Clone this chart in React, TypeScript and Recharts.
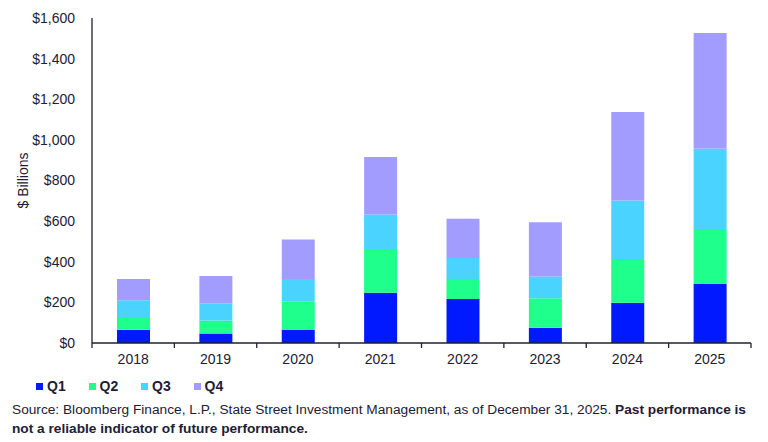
import React from 'react';
import { BarChart, Bar, XAxis, YAxis } from 'recharts';

// Quarterly flows, $ billions
const years = ['2018', '2019', '2020', '2021', '2022', '2023', '2024', '2025'];
const q1 = [65, 47, 64, 248, 217, 75, 198, 290];
const q2 = [58, 64, 139, 215, 98, 145, 211, 271];
const q3 = [87, 84, 112, 170, 103, 108, 292, 396];
const q4 = [105, 135, 194, 283, 194, 266, 436, 569];
const yTicks = [0, 200, 400, 600, 800, 1000, 1200, 1400, 1600];

const series = [
  { key: 'Q1', color: '#0019FF', values: q1 },
  { key: 'Q2', color: '#1FFF8C', values: q2 },
  { key: 'Q3', color: '#4BD3FF', values: q3 },
  { key: 'Q4', color: '#A39CFF', values: q4 },
];

const data = years.map((year, i) => {
  const row: any = { year };
  series.forEach(s => {
    row[s.key] = s.values[i];
  });
  return row;
});

const W = 768;
const MARGIN = { top: 18, right: 17, left: 12, bottom: 0 };
const Y_W = 80;
const BAND = (W - MARGIN.left - MARGIN.right - Y_W) / years.length;
const INK = '#1f2133';
const TEXT = '#1c2035';
const FONT = '"Liberation Sans", Arial, sans-serif';

const YearTick = (props: any) => {
  const { x, y, payload, index } = props;
  const left = x - BAND / 2;
  const right = x + BAND / 2;
  return (
    <g>
      <line x1={left} y1={y} x2={left} y2={y + 5} stroke={INK} strokeWidth={1.3} />
      {index === years.length - 1 && (
        <line x1={right} y1={y} x2={right} y2={y + 5} stroke={INK} strokeWidth={1.3} />
      )}
      <text x={x} y={y + 17} textAnchor="middle" dominantBaseline="middle" fill={TEXT} fontSize={14} fontFamily={FONT}>
        {payload.value}
      </text>
    </g>
  );
};

export default function App() {
  return (
    <div style={{ position: 'absolute', left: 0, top: 0, width: W, height: 442, background: '#fff', fontFamily: FONT }}>
      <BarChart width={W} height={370} data={data} margin={MARGIN} barSize={33}>
        <XAxis
          dataKey="year"
          tickLine={false}
          tickSize={0}
          tickMargin={0}
          height={27}
          axisLine={{ stroke: INK, strokeWidth: 1.3 }}
          tick={<YearTick />}
          interval={0}
        />
        <YAxis
          width={Y_W}
          domain={[0, 1600]}
          ticks={yTicks}
          interval={0}
          tickLine={false}
          tickSize={12}
          tickMargin={5}
          axisLine={{ stroke: INK, strokeWidth: 1.3 }}
          tick={{ fill: TEXT, fontSize: 14, fontFamily: FONT }}
          tickFormatter={(v: number) => '$' + v.toLocaleString('en-US')}
          label={{ value: '$ Billions', angle: -90, position: 'insideLeft', offset: 11, style: { fill: TEXT, fontSize: 14, fontFamily: FONT, textAnchor: 'middle' } }}
        />
        {series.map(s => (
          <Bar key={s.key} dataKey={s.key} stackId="a" fill={s.color} isAnimationActive={false} />
        ))}
      </BarChart>
      <div style={{ position: 'absolute', left: 36, top: 378, display: 'flex', alignItems: 'center' }}>
        {series.map(s => (
          <div key={s.key} style={{ display: 'flex', alignItems: 'center', width: 52.5 }}>
            <span style={{ display: 'inline-block', width: 7, height: 7, background: s.color, marginRight: 4 }} />
            <span style={{ fontSize: 14, fontWeight: 'bold', color: TEXT, lineHeight: '16px' }}>{s.key}</span>
          </div>
        ))}
      </div>
      <div style={{ position: 'absolute', left: 12, top: 401, width: 752, fontSize: 13.7, lineHeight: '18.5px', color: TEXT }}>
        Source: Bloomberg Finance, L.P., State Street Investment Management, as of December 31, 2025.{' '}
        <b>Past performance is not a reliable indicator of future performance.</b>
      </div>
    </div>
  );
}
